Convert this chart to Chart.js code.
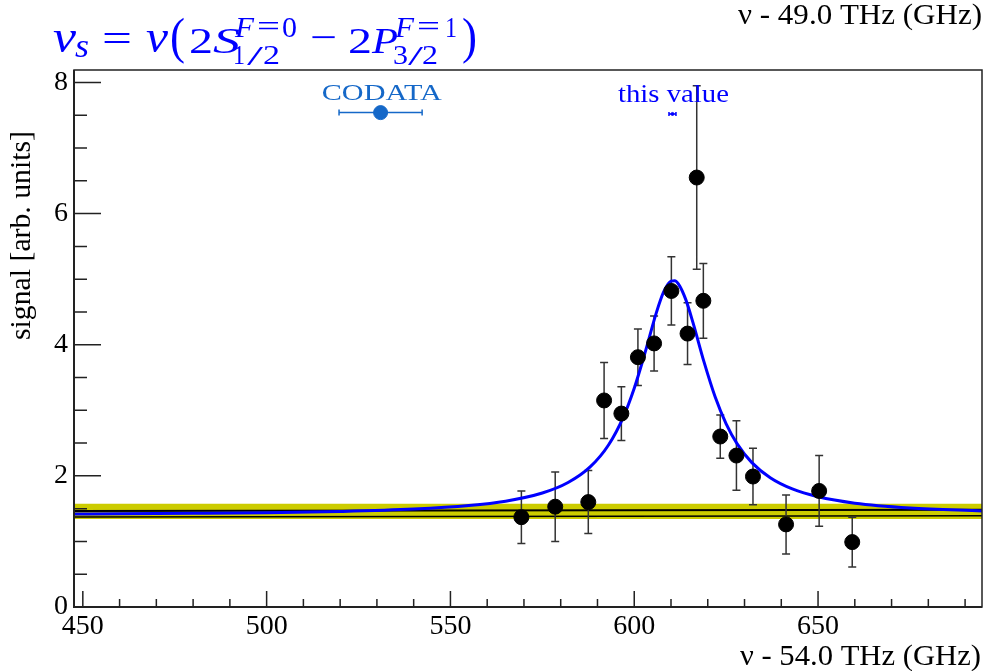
<!DOCTYPE html>
<html>
<head>
<meta charset="utf-8">
<script src="https://cdn.jsdelivr.net/npm/chart.js@4.4.1/dist/chart.umd.min.js"></script>
<style>
  html, body { margin: 0; padding: 0; background: #fff; }
  #wrap { width: 984px; height: 671px; }
</style>
</head>
<body>
<div id="wrap"><canvas id="chart" width="984" height="671"></canvas></div>
<script>
// measured points (nu - 54.0 THz, GHz)
const freq = [569.3, 578.5, 587.5, 591.8, 596.5, 601.0, 605.4, 610.1, 614.5, 617.0, 618.8, 623.4, 627.8, 632.3, 641.3, 650.3, 659.3];
const signal = [1.37, 1.53, 1.60, 3.15, 2.95, 3.81, 4.02, 4.82, 4.17, 6.55, 4.67, 2.60, 2.31, 1.99, 1.26, 1.77, 0.99];
const signalErr = [0.40, 0.53, 0.48, 0.58, 0.41, 0.43, 0.42, 0.52, 0.47, 1.40, 0.57, 0.33, 0.53, 0.43, 0.45, 0.54, 0.38];

// fitted line shape
const fitFreq = [447.6, 460, 480, 500, 520, 540, 555, 565, 575, 582, 588, 593, 597, 600, 603, 606, 608, 610, 611, 612, 614, 616, 619, 622, 625, 628, 632, 637, 643, 650, 660, 675, 694.6];
const fitSignal = [1.418, 1.421, 1.428, 1.438, 1.457, 1.493, 1.547, 1.614, 1.738, 1.898, 2.136, 2.471, 2.893, 3.336, 3.891, 4.486, 4.805, 4.970, 4.976, 4.928, 4.692, 4.333, 3.734, 3.206, 2.794, 2.488, 2.202, 1.971, 1.800, 1.681, 1.584, 1.511, 1.466];

// background level and its band
const bandFreq = [447.6, 694.6];
const bandLow = [1.343, 1.343];
const bandHigh = [1.575, 1.575];
const bgLine = [1.465, 1.485];
const bgLineLow = [1.374, 1.393];

// reference markers
const codataFreq = [531.0];
const codataSignal = [7.54];
const codataErr = [11.3];
const thisFreq = [610.4];
const thisSignal = [7.52];
const thisErr = [0.95];

const SERIF = "'Liberation Serif', 'DejaVu Serif', serif";

function pts(xs, ys) {
  return xs.map((v, i) => ({ x: v, y: ys[i] }));
}

function fitText(ctx, text, x, y, font, width, align) {
  ctx.save();
  ctx.font = font;
  const w = ctx.measureText(text).width;
  const s = width ? width / w : 1;
  let x0 = x;
  if (align === "center") x0 = x - (w * s) / 2;
  if (align === "right") x0 = x - w * s;
  ctx.translate(x0, y);
  ctx.scale(s, 1);
  ctx.textAlign = "left";
  ctx.textBaseline = "alphabetic";
  ctx.fillText(text, 0, 0);
  ctx.restore();
}

function drawErrorBars(chart) {
  const { ctx, chartArea, scales: { x, y } } = chart;
  ctx.save();
  ctx.beginPath();
  ctx.rect(chartArea.left, chartArea.top, chartArea.right - chartArea.left, chartArea.bottom - chartArea.top);
  ctx.clip();

  ctx.strokeStyle = "#333";
  ctx.lineWidth = 1.5;
  ctx.beginPath();
  freq.forEach((f, i) => {
    const px = x.getPixelForValue(f);
    const top = y.getPixelForValue(signal[i] + signalErr[i]);
    const bot = y.getPixelForValue(signal[i] - signalErr[i]);
    ctx.moveTo(px, top); ctx.lineTo(px, bot);
    ctx.moveTo(px - 4, top); ctx.lineTo(px + 4, top);
    ctx.moveTo(px - 4, bot); ctx.lineTo(px + 4, bot);
  });
  ctx.stroke();

  const hbar = (xs, ys, es, color, cap) => {
    ctx.strokeStyle = color;
    ctx.lineWidth = 1.5;
    ctx.beginPath();
    xs.forEach((f, i) => {
      const py = y.getPixelForValue(ys[i]);
      const l = x.getPixelForValue(f - es[i]);
      const r = x.getPixelForValue(f + es[i]);
      ctx.moveTo(l, py); ctx.lineTo(r, py);
      ctx.moveTo(l, py - cap); ctx.lineTo(l, py + cap);
      ctx.moveTo(r, py - cap); ctx.lineTo(r, py + cap);
    });
    ctx.stroke();
  };
  hbar(codataFreq, codataSignal, codataErr, "#1568c8", 3);
  hbar(thisFreq, thisSignal, thisErr, "#0000ff", 2);
  ctx.restore();
}

function drawFrame(chart) {
  const { ctx, chartArea: a, scales: { x, y } } = chart;
  ctx.save();
  ctx.strokeStyle = "#222";
  ctx.lineWidth = 1.5;
  ctx.strokeRect(a.left, a.top, a.right - a.left, a.bottom - a.top);
  ctx.lineWidth = 2;
  ctx.beginPath();
  ctx.moveTo(a.left, a.top); ctx.lineTo(a.left, a.bottom); ctx.lineTo(a.right, a.bottom);
  ctx.stroke();

  ctx.lineWidth = 1.5;
  ctx.beginPath();
  for (let v = 450; v <= 690; v += 10) {
    const px = x.getPixelForValue(v);
    const len = v % 50 === 0 ? 16 : 8;
    ctx.moveTo(px, a.bottom); ctx.lineTo(px, a.bottom - len);
  }
  for (let v = 0; v <= 8; v += 0.5) {
    const py = y.getPixelForValue(v);
    const len = v % 2 === 0 ? 27 : 13;
    ctx.moveTo(a.left, py); ctx.lineTo(a.left + len, py);
  }
  ctx.stroke();
  ctx.restore();
}

function drawTexts(chart) {
  const ctx = chart.ctx;
  ctx.save();
  ctx.fillStyle = "#000";
  fitText(ctx, "ν - 49.0 THz (GHz)", 982, 24, "29px " + SERIF, 244, "right");
  fitText(ctx, "ν - 54.0 THz (GHz)", 981, 665, "29px " + SERIF, 241, "right");

  ctx.save();
  ctx.translate(30, 235.5);
  ctx.rotate(-Math.PI / 2);
  fitText(ctx, "signal [arb. units]", 0, 0, "30px " + SERIF, 209, "center");
  ctx.restore();

  ctx.fillStyle = "#1568c8";
  fitText(ctx, "CODATA", 381.7, 100, "24px " + SERIF, 120, "center");
  ctx.fillStyle = "#0000ff";
  fitText(ctx, "this value", 673.5, 101.5, "26px " + SERIF, 111, "center");

  // title: nu_s = nu(2S^{F=0}_{1/2} - 2P^{F=1}_{3/2})
  const pieces = [
    ["ν", 53, 52, 46, true, 23],
    ["s", 75, 57, 33, true, 14],
    ["=", 102, 51, 38, false, 30],
    ["ν", 146, 52, 46, true, 22],
    ["(", 170, 53, 50, false, 15],
    ["2", 189, 53, 36, false, 24],
    ["S", 213, 53, 36, true, 27],
    ["F", 235, 37, 29, true, 19],
    ["=", 257, 36, 29, false, 23],
    ["0", 282, 37, 29, false, 15],
    ["1", 233, 64, 28, false, 12],
    ["/", 247, 65, 28, false, 16],
    ["2", 263, 64, 28, false, 17],
    ["−", 310, 50, 38, false, 27],
    ["2", 348, 53, 36, false, 24],
    ["P", 372, 53, 36, true, 26],
    ["F", 395, 37, 29, true, 19],
    ["=", 417, 36, 29, false, 23],
    ["1", 445, 37, 29, false, 12],
    ["3", 393, 64, 28, false, 15],
    ["/", 408, 65, 28, false, 15],
    ["2", 422, 64, 28, false, 16],
    [")", 462, 53, 50, false, 15],
  ];
  pieces.forEach(([t, px, py, size, it, w]) => {
    fitText(ctx, t, px, py, (it ? "italic " : "") + size + "px " + SERIF, w, "left");
  });
  ctx.restore();
}

const rootStyle = {
  id: "rootStyle",
  beforeDatasetDraw(chart, args) {
    if (args.index === 4) drawErrorBars(chart);
  },
  afterDraw(chart) {
    drawFrame(chart);
    drawTexts(chart);
  },
};

new Chart(document.getElementById("chart"), {
  type: "scatter",
  data: {
    datasets: [
      { data: pts(bandFreq, bandLow), showLine: true, borderWidth: 0, borderColor: "rgba(0,0,0,0)", pointRadius: 0, fill: false, order: 7 },
      { data: pts(bandFreq, bandHigh), showLine: true, borderWidth: 0, borderColor: "rgba(0,0,0,0)", pointRadius: 0, fill: 0, backgroundColor: "#cccc00", order: 6 },
      { data: pts(bandFreq, bgLineLow), showLine: true, borderWidth: 1.5, borderColor: "#000", pointRadius: 0, order: 5 },
      { data: pts(bandFreq, bgLine), showLine: true, borderWidth: 2, borderColor: "#000", pointRadius: 0, order: 4 },
      { data: pts(fitFreq, fitSignal), showLine: true, borderWidth: 3, borderColor: "#0000ff", pointRadius: 0, cubicInterpolationMode: "monotone", order: 3 },
      { data: pts(freq, signal), pointRadius: 7.5, backgroundColor: "#000", borderColor: "#000", order: 2 },
      { data: pts(codataFreq, codataSignal), pointRadius: 7, backgroundColor: "#1568c8", borderColor: "#1568c8", order: 1 },
      { data: pts(thisFreq, thisSignal), pointRadius: 1.5, backgroundColor: "#0000ff", borderColor: "#0000ff", order: 0 },
    ],
  },
  options: {
    responsive: false,
    devicePixelRatio: 1,
    animation: false,
    layout: { autoPadding: false, padding: { top: 70, right: 2, left: 0, bottom: 0 } },
    plugins: { legend: { display: false }, tooltip: { enabled: false } },
    scales: {
      x: {
        type: "linear",
        min: 447.6,
        max: 694.6,
        grid: { display: false, drawTicks: false },
        border: { display: false },
        ticks: { stepSize: 50, includeBounds: false, padding: 3, color: "#000", font: { family: SERIF, size: 28 } },
        afterFit(s) { s.height = 64; },
      },
      y: {
        min: 0,
        max: 8.19,
        grid: { display: false, drawTicks: false },
        border: { display: false },
        ticks: { stepSize: 2, includeBounds: false, padding: 6, color: "#000", font: { family: SERIF, size: 28 } },
        afterFit(s) { s.width = 74; },
      },
    },
  },
  plugins: [rootStyle],
});
</script>
</body>
</html>
